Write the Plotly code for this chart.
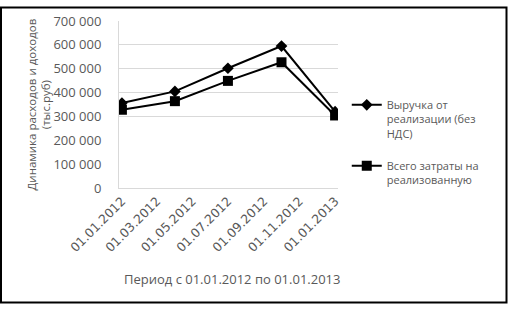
import plotly.graph_objects as go

dates = ["2012-01-01", "2012-04-01", "2012-07-01", "2012-10-01", "2013-01-01"]
revenue = [356000, 405000, 502000, 595000, 320000]
costs = [328000, 364000, 449000, 527000, 304000]
series_names = ["Выручка от<br>реализации (без<br>НДС)", "Всего затраты на<br>реализованную"]
tick_dates = ["2012-01-01", "2012-03-01", "2012-05-01", "2012-07-01", "2012-09-01", "2012-11-01", "2013-01-01"]
tick_labels = ["01.01.2012", "01.03.2012", "01.05.2012", "01.07.2012", "01.09.2012", "01.11.2012", "01.01.2013"]
y_ticks = [0, 100000, 200000, 300000, 400000, 500000, 600000, 700000]
y_tick_labels = ["0", "100 000", "200 000", "300 000", "400 000", "500 000", "600 000", "700 000"]
grid_values = [300000, 400000, 500000, 600000]
y_title = "Динамика расходов и доходов<br>(тыс.руб)"
x_title = "Период с 01.01.2012 по 01.01.2013"

W, H = 509, 309
L, R, T, B = 119, 171, 15, 121
pw, ph = W - L - R, H - T - B

FONT = "Open Sans"
GRAY = "#595959"

fig = go.Figure()
fig.add_trace(go.Scatter(x=dates, y=revenue, name=series_names[0], mode="lines+markers",
                         legendgroup="a",
                         line=dict(color="black", width=2),
                         marker=dict(symbol="diamond", size=9, color="black")))
fig.add_trace(go.Scatter(x=dates, y=costs, name=series_names[1], mode="lines+markers",
                         legendgroup="b",
                         line=dict(color="black", width=2),
                         marker=dict(symbol="square", size=10, color="black")))

fig.update_layout(
    width=W, height=H,
    margin=dict(l=L, r=R, t=T, b=B),
    paper_bgcolor="white", plot_bgcolor="white",
    font=dict(family=FONT, size=11, color=GRAY),
    xaxis=dict(type="date", range=["2011-12-27", "2013-01-06"],
               tickvals=tick_dates, ticktext=tick_labels, tickangle=-45,
               showgrid=False, showline=True, linecolor="#d9d9d9", linewidth=1,
               ticks="", tickfont=dict(family="DejaVu Sans", size=12.5, color=GRAY), zeroline=False),
    yaxis=dict(range=[0, 700000], tickvals=y_ticks, ticktext=y_tick_labels,
               showgrid=False, showline=True, linecolor="#d9d9d9", linewidth=1,
               ticks="", ticklabelstandoff=14, zeroline=False,
               tickfont=dict(size=13, color=GRAY)),
    yaxis2=dict(range=[0, 700000], overlaying="y", tickvals=grid_values,
                showticklabels=False, showgrid=True, gridcolor="#d9d9d9", gridwidth=1,
                zeroline=False, showline=False, ticks=""),
    legend=dict(x=1.04, y=0.58, xanchor="left", yanchor="top", valign="top",
                font=dict(size=11, color=GRAY), tracegroupgap=15, traceorder="grouped",
                bgcolor="rgba(0,0,0,0)"),
    showlegend=True,
)
fig.add_trace(go.Scatter(x=[dates[0]], y=[None], yaxis="y2", showlegend=False, hoverinfo="skip"))

fig.add_annotation(text=y_title, xref="paper", yref="paper",
                   x=(38 - L) / pw, y=0.5, xanchor="center", yanchor="middle",
                   textangle=-90, showarrow=False, font=dict(size=11.5, color=GRAY))
fig.add_annotation(text=x_title, xref="paper", yref="paper",
                   x=(232 - L) / pw, y=(H - B - 282) / ph, xanchor="center", yanchor="middle",
                   showarrow=False, font=dict(size=13, color=GRAY))
fig.add_shape(type="rect", xref="paper", yref="paper",
              x0=(1 - L) / pw, x1=(506.5 - L) / pw,
              y0=(H - B - 306.5) / ph, y1=(H - B - 1) / ph,
              line=dict(color="black", width=2), fillcolor="rgba(0,0,0,0)")

fig.write_html("out.html")
